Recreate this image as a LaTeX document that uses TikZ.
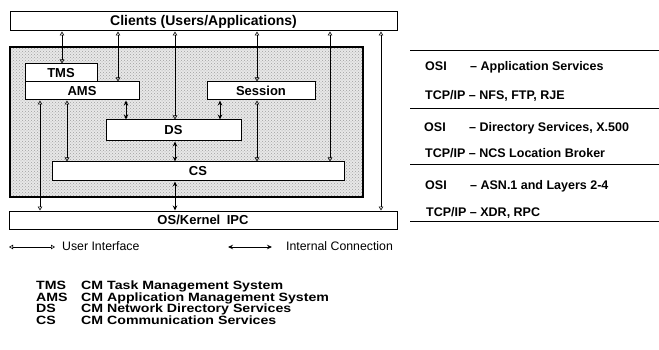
\documentclass[tikz,border=0pt]{standalone}
\usepackage{fontspec}
\setmainfont{Liberation Sans}
\newfontfamily\widesans[FakeStretch=1.18]{Liberation Sans}
\usetikzlibrary{arrows.meta,patterns}
\begin{document}
\begin{tikzpicture}[x=1pt,y=-1pt,
  box/.style={draw,line width=1pt,fill=white,inner sep=0pt,
    font=\bfseries\fontsize{13}{13}\selectfont},
  ui/.style={line width=0.6pt,
    {Triangle[open,length=4pt,width=4.5pt]}-{Triangle[open,length=4pt,width=4.5pt]}},
  internal/.style={line width=0.9pt,
    {Stealth[length=5pt,width=4.5pt]}-{Stealth[length=5pt,width=4.5pt]}},
  tab/.style={anchor=base west,inner sep=0pt,font=\bfseries\fontsize{12.5}{12.5}\selectfont},
  legend/.style={anchor=base west,inner sep=0pt,font=\fontsize{12.3}{12.3}\selectfont},
  abbr/.style={anchor=base west,inner sep=0pt,font=\widesans\bfseries\fontsize{12}{12}\selectfont},
  rule/.style={line width=1pt}
]
\useasboundingbox (0,0) rectangle (659,350);

% layered component boxes
\node[box,minimum width=387pt,minimum height=19pt,font=\bfseries\fontsize{14}{14}\selectfont]
  (clients) at (203.5,21.5) {Clients (Users/Applications)};
\node[draw,line width=1.6pt,minimum width=353pt,minimum height=150pt,
  preaction={fill=gray!18},pattern=crosshatch dots,pattern color=gray!75]
  (core) at (186.5,122) {};
\node[box,minimum width=72pt,minimum height=18pt] (tms) at (61,73) {TMS};
\node[box,minimum width=114pt,minimum height=18pt] (ams) at (82,91) {AMS};
\node[box,minimum width=108pt,minimum height=18pt] (session) at (261,91) {Session};
\node[box,minimum width=135pt,minimum height=21pt] (ds) at (173.5,130.5) {DS};
\node[box,minimum width=292pt,minimum height=19pt] (cs) at (198,171.5) {CS};
\node[box,minimum width=388pt,minimum height=18pt] (os) at (203,220) {OS/Kernel\enspace IPC};

% x positions of the vertical connectors
\coordinate (a) at (62,0);
\coordinate (b) at (118,0);
\coordinate (c) at (175,0);
\coordinate (d) at (257,0);
\coordinate (e) at (330,0);
\coordinate (f) at (381,0);
\coordinate (g) at (40,0);
\coordinate (h) at (67,0);
\coordinate (i) at (126,0);
\coordinate (j) at (220,0);

% user interface connections
\draw[ui] (clients.south -| a) -- (tms.north -| a);
\draw[ui] (clients.south -| b) -- (ams.north -| b);
\draw[ui] (clients.south -| c) -- (ds.north -| c);
\draw[ui] (clients.south -| d) -- (session.north -| d);
\draw[ui] (clients.south -| e) -- (cs.north -| e);
\draw[ui] (clients.south -| f) -- (os.north -| f);
\draw[ui] (ams.south -| g) -- (os.north -| g);
\draw[ui] (ams.south -| h) -- (cs.north -| h);
\draw[ui] (session.south -| d) -- (cs.north -| d);

% internal connections
\draw[internal] (ams.south -| i) -- (ds.north -| i);
\draw[internal] (session.south -| j) -- (ds.north -| j);
\draw[internal] (ds.south -| c) -- (cs.north -| c);
\draw[internal] (cs.south -| c) -- (os.north -| c);

% protocol table
\draw[rule] (410,51) -- (659,51);
\draw[rule] (410,109) -- (659,109);
\draw[rule] (410,165) -- (659,165);
\draw[rule] (410,221) -- (659,221);
\node[tab] (o1) at (425,70.5) {OSI};
\node[tab] (o1t) at (470,70.5) {-- Application Services};
\node[tab] (t1) at (425,99.5) {TCP/IP -- NFS, FTP, RJE};
\node[tab] (o2) at (424,131.5) {OSI};
\node[tab] (o2t) at (469,131.5) {-- Directory Services, X.500};
\node[tab] (t2) at (425,157.5) {TCP/IP -- NCS Location Broker};
\node[tab] (o3) at (425,189.5) {OSI};
\node[tab] (o3t) at (470,189.5) {-- ASN.1 and Layers 2-4};
\node[tab] (t3) at (426,216.5) {TCP/IP -- XDR, RPC};

% legend
\coordinate (l1) at (9,247);
\coordinate (l2) at (55,247);
\coordinate (l3) at (228,247);
\coordinate (l4) at (272,247);
\draw[ui] (l1) -- (l2);
\node[legend] (lui) at (62,251) {User Interface};
\draw[internal] (l3) -- (l4);
\node[legend] (lin) at (286,251) {Internal Connection};

% abbreviations
\node[abbr] (k1) at (36,289.5) {TMS};
\node[abbr] (v1) at (81,289.5) {CM Task Management System};
\node[abbr] (k2) at (36,301) {AMS};
\node[abbr] (v2) at (81,301) {CM Application Management System};
\node[abbr] (k3) at (36,312.5) {DS};
\node[abbr] (v3) at (81,312.5) {CM Network Directory Services};
\node[abbr] (k4) at (36,324) {CS};
\node[abbr] (v4) at (81,324) {CM Communication Services};
\end{tikzpicture}
\end{document}
